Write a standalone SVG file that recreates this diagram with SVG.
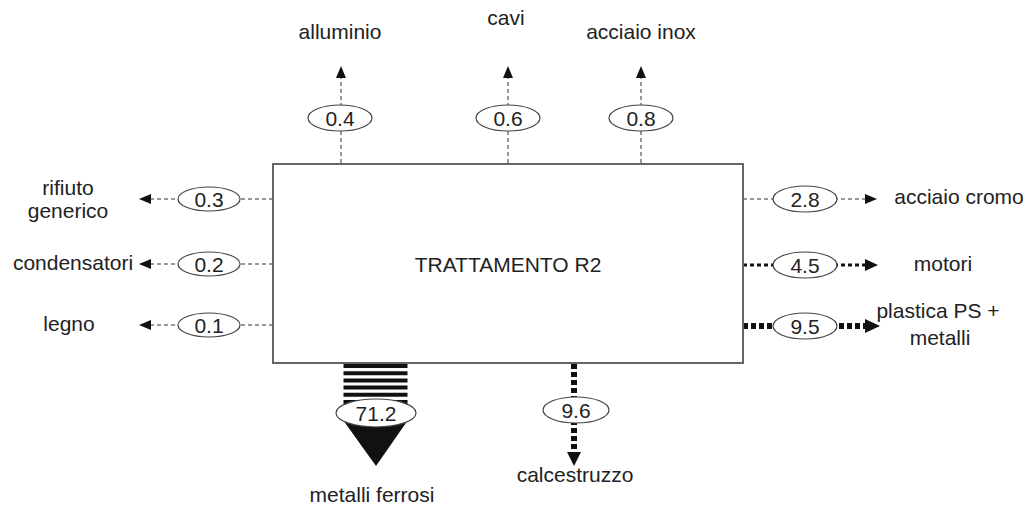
<svg xmlns="http://www.w3.org/2000/svg" width="1032" height="509" viewBox="0 0 1032 509">
<style>
text{font-family:"Liberation Sans",Arial,sans-serif;font-size:21px;fill:#222}
.c{text-anchor:middle}
.thin{stroke:#777;stroke-width:1.5;stroke-dasharray:4 3;fill:none}
.med{stroke:#111;stroke-width:3;stroke-dasharray:4 3;fill:none}
.thick{stroke:#111;stroke-width:6;stroke-dasharray:5 3;fill:none}
.ah{fill:#111}
.el{fill:#fff;stroke:#444;stroke-width:1.2}
</style>
<rect width="1032" height="509" fill="#fff"/>
<g id="connectors">
<line class="thin" x1="341" y1="163" x2="341" y2="77"/>
<polygon class="ah" points="341,66 336,78 346,78"/>
<line class="thin" x1="508" y1="163" x2="508" y2="77"/>
<polygon class="ah" points="508,66 503,78 513,78"/>
<line class="thin" x1="641" y1="163" x2="641" y2="77"/>
<polygon class="ah" points="641,66 636,78 646,78"/>
<line class="thin" x1="273" y1="199" x2="150" y2="199"/>
<polygon class="ah" points="139,199 151,194 151,204"/>
<line class="thin" x1="273" y1="264" x2="150" y2="264"/>
<polygon class="ah" points="139,264 151,259 151,269"/>
<line class="thin" x1="273" y1="325" x2="150" y2="325"/>
<polygon class="ah" points="139,325 151,320 151,330"/>
<line class="thin" x1="743" y1="199" x2="866" y2="199"/>
<polygon class="ah" points="877,199 865,194 865,204"/>
<line class="med" x1="743" y1="265" x2="866" y2="265"/>
<polygon class="ah" points="878,265 865,259 865,271"/>
<line class="thick" x1="743" y1="326" x2="866" y2="326"/>
<polygon class="ah" points="880,326 865,319 865,333"/>
<line class="thick" x1="574" y1="364" x2="574" y2="453"/>
<polygon class="ah" points="574,466 567,452 581,452"/>
<line x1="375.5" y1="364" x2="375.5" y2="421" stroke="#111" stroke-width="64" stroke-dasharray="4 3.2"/>
<polygon class="ah" points="343,420 408,420 376,466"/>
</g>
<g id="main">
<rect x="273" y="164" width="470" height="199" fill="#fff" stroke="#666" stroke-width="2"/>
<text class="c" x="508" y="272">TRATTAMENTO R2</text>
</g>
<g id="v04"><ellipse class="el" cx="340" cy="118" rx="32" ry="13"/><text class="c" x="340" y="126">0.4</text></g>
<g id="v06"><ellipse class="el" cx="508" cy="118" rx="32" ry="13"/><text class="c" x="508" y="126">0.6</text></g>
<g id="v08"><ellipse class="el" cx="641" cy="118" rx="32" ry="13"/><text class="c" x="641" y="126">0.8</text></g>
<g id="v03"><ellipse class="el" cx="209" cy="199" rx="31" ry="12"/><text class="c" x="209" y="207">0.3</text></g>
<g id="v02"><ellipse class="el" cx="209" cy="264" rx="31" ry="12"/><text class="c" x="209" y="272">0.2</text></g>
<g id="v01"><ellipse class="el" cx="209" cy="325" rx="31" ry="12"/><text class="c" x="209" y="333">0.1</text></g>
<g id="v28"><ellipse class="el" cx="805" cy="199" rx="32" ry="13"/><text class="c" x="805" y="207">2.8</text></g>
<g id="v45"><ellipse class="el" cx="805" cy="265" rx="32" ry="13"/><text class="c" x="805" y="273">4.5</text></g>
<g id="v95"><ellipse class="el" cx="805" cy="326" rx="32" ry="13"/><text class="c" x="805" y="334">9.5</text></g>
<g id="v712"><ellipse class="el" cx="376" cy="413" rx="40" ry="14"/><text class="c" x="376" y="421">71.2</text></g>
<g id="v96"><ellipse class="el" cx="576" cy="410" rx="33" ry="13"/><text class="c" x="576" y="418">9.6</text></g>
<g id="labels">
<text class="c" x="340" y="39">alluminio</text>
<text class="c" x="506" y="25">cavi</text>
<text class="c" x="641" y="39">acciaio inox</text>
<text class="c" x="68" y="195">rifiuto</text>
<text class="c" x="68" y="218">generico</text>
<text class="c" x="73" y="270">condensatori</text>
<text class="c" x="69" y="331">legno</text>
<text class="c" x="959" y="204">acciaio cromo</text>
<text class="c" x="943" y="271">motori</text>
<text class="c" x="938" y="318">plastica PS +</text>
<text class="c" x="940" y="345">metalli</text>
<text class="c" x="372" y="502">metalli ferrosi</text>
<text class="c" x="575" y="482">calcestruzzo</text>
</g>
</svg>
